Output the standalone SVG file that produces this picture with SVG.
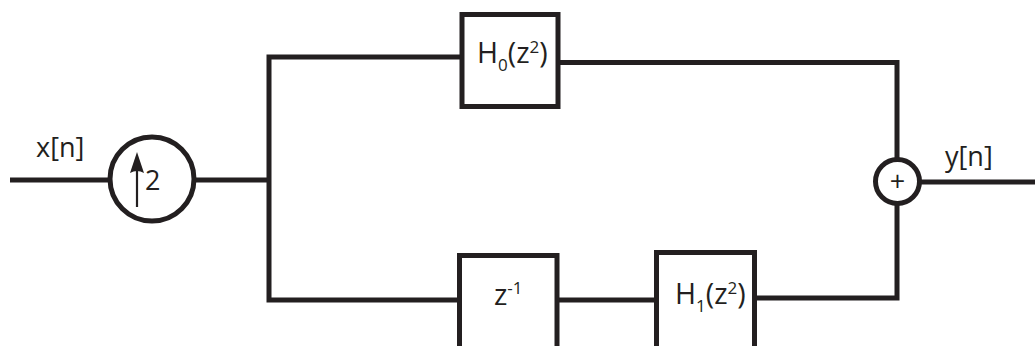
<svg xmlns="http://www.w3.org/2000/svg" width="1035" height="346" viewBox="0 0 1035 346">
<style>
.ln{fill:none;stroke:#231f20;stroke-width:5;stroke-linejoin:miter;stroke-linecap:butt}
.bx{fill:#ffffff;stroke:#231f20;stroke-width:5}
.t{font-family:"Open Sans","Liberation Sans",sans-serif;font-size:27px;fill:#231f20}
.b{font-size:28.5px}
.s{font-size:17px}
</style>
<rect width="1035" height="346" fill="#ffffff"/>
<g id="connectors">
<line class="ln" x1="10" y1="180" x2="110" y2="180"/>
<line class="ln" x1="194" y1="180" x2="269" y2="180"/>
<polyline class="ln" points="461,57 269,57 269,300 458,300"/>
<line class="ln" x1="557" y1="300" x2="657" y2="300"/>
<polyline class="ln" points="558,62.5 897,62.5 897,158"/>
<polyline class="ln" points="754,298 897,298 897,205"/>
<line class="ln" x1="920" y1="182" x2="1035" y2="182"/>
</g>
<g id="input-label"><text class="t" x="36" y="157">x[n]</text></g>
<g id="upsampler">
<circle cx="152" cy="179" r="42" fill="#ffffff" stroke="#231f20" stroke-width="5"/>
<line x1="137" y1="207" x2="137" y2="168" stroke="#231f20" stroke-width="2.2"/>
<path d="M137,152 L144,173 Q137,169 130,173 Z" fill="#231f20"/>
<text class="t" x="145" y="190" font-size="30">2</text>
</g>
<g id="H0">
<rect class="bx" x="462" y="14.5" width="96" height="92"/>
<text class="t b" x="477" y="63">H<tspan class="s" dy="8">0</tspan><tspan dy="-8">(z</tspan><tspan class="s" dy="-10">2</tspan><tspan dy="10">)</tspan></text>
</g>
<g id="zinv">
<rect class="bx" x="459.5" y="255.5" width="97.5" height="95"/>
<text class="t b" x="494" y="305">z<tspan class="s" dy="-11">-1</tspan></text>
</g>
<g id="H1">
<rect class="bx" x="656.5" y="252.5" width="98" height="98"/>
<text class="t b" x="675" y="304">H<tspan class="s" dy="8">1</tspan><tspan dy="-8">(z</tspan><tspan class="s" dy="-10">2</tspan><tspan dy="10">)</tspan></text>
</g>
<g id="adder">
<circle cx="897.5" cy="181.5" r="22" fill="#ffffff" stroke="#231f20" stroke-width="5"/>
<text class="t" x="897.5" y="191" text-anchor="middle" font-size="24">+</text>
</g>
<g id="output-label"><text class="t" x="945" y="166">y[n]</text></g>
</svg>
